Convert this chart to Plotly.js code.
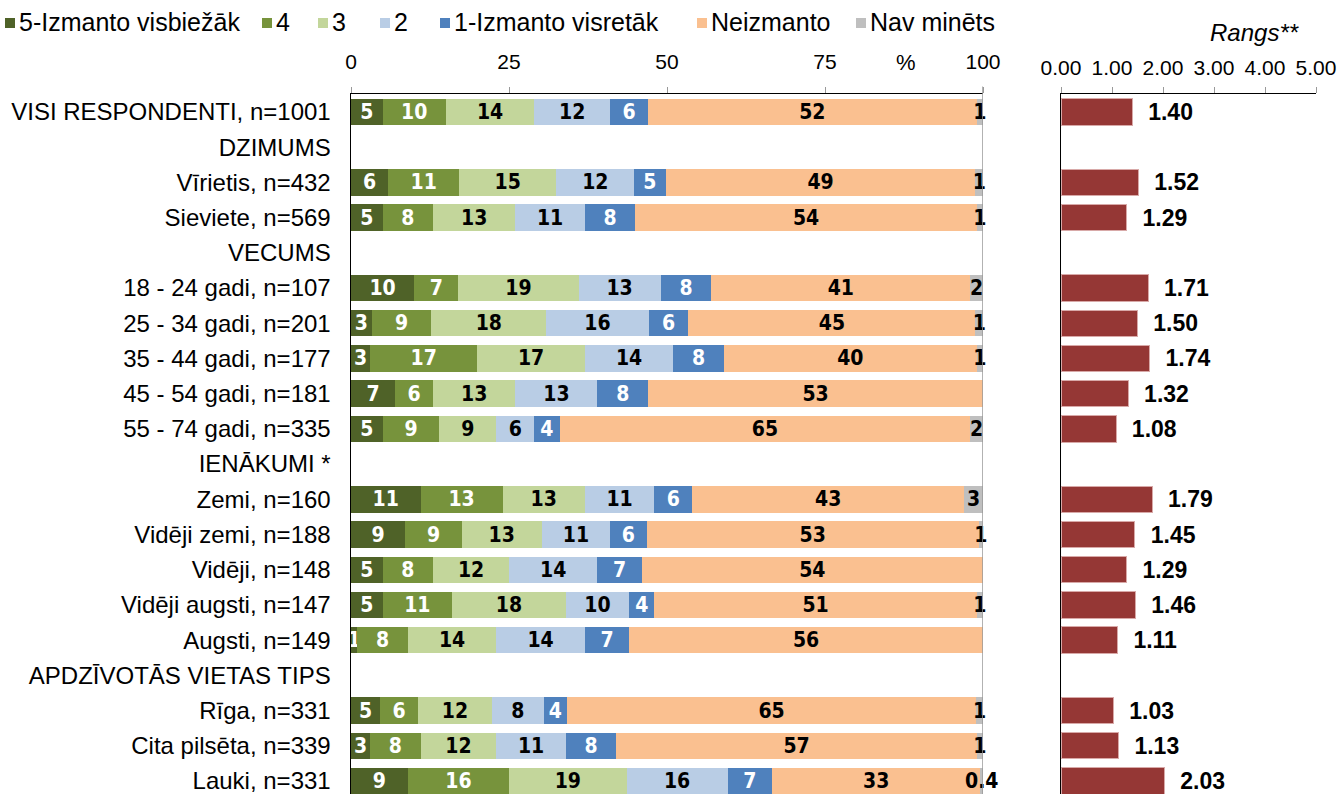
<!DOCTYPE html>
<html>
<head>
<meta charset="utf-8">
<script src="https://cdn.plot.ly/plotly-3.0.1.min.js"></script>
<style>html,body{margin:0;padding:0;background:#fff;}#chart{width:1339px;height:794px;}</style>
</head>
<body>
<div id="chart"></div>
<script>
const categories = [
  "VISI RESPONDENTI, n=1001", "DZIMUMS", "Vīrietis, n=432", "Sieviete, n=569",
  "VECUMS", "18 - 24 gadi, n=107", "25 - 34 gadi, n=201", "35 - 44 gadi, n=177",
  "45 - 54 gadi, n=181", "55 - 74 gadi, n=335", "IENĀKUMI *", "Zemi, n=160",
  "Vidēji zemi, n=188", "Vidēji, n=148", "Vidēji augsti, n=147", "Augsti, n=149",
  "APDZĪVOTĀS VIETAS TIPS", "Rīga, n=331", "Cita pilsēta, n=339", "Lauki, n=331"
];
const seriesNames = ["5-Izmanto visbiežāk", "4", "3", "2", "1-Izmanto visretāk", "Neizmanto", "Nav minēts"];
const s5   = [5, null, 5.9, 5, null, 10, 3.3, 3, 7, 5, null, 11, 8.6, 5, 5, 1, null, 4.6, 3, 9];
const s4   = [10, null, 11.2, 8, null, 7, 9.4, 17, 6, 9, null, 13, 8.9, 8, 11, 8, null, 6.0, 8, 16];
const s3   = [14, null, 15.4, 13, null, 19, 18.2, 17, 13, 9, null, 13, 12.7, 12, 18, 14, null, 11.7, 12, 18.6];
const s2   = [12, null, 12.3, 11, null, 13, 16.2, 14, 13, 6, null, 11, 10.8, 14, 10, 14, null, 8.2, 11, 16];
const s1   = [6, null, 5.0, 8, null, 8, 6.3, 8, 8, 4, null, 6, 5.8, 7, 4, 7, null, 3.7, 8, 7];
const sNe  = [52, null, 49.0, 54, null, 41, 45.4, 40, 53, 65, null, 43, 52.5, 54, 51, 56, null, 64.7, 57, 33];
const sNav = [1, null, 1.2, 1, null, 2, 1.2, 1, null, 2, null, 3, 0.7, null, 1, null, null, 1.1, 1, 0.4];
const rangs = [1.40, null, 1.52, 1.29, null, 1.71, 1.50, 1.74, 1.32, 1.08, null, 1.79, 1.45, 1.29, 1.46, 1.11, null, 1.03, 1.13, 2.03];
const xTicks = [0, 25, 50, 75, 100];
const x2Ticks = [0, 1, 2, 3, 4, 5];

const colors = ["#4F6228", "#77933C", "#C3D69B", "#B9CDE5", "#4F81BD", "#FAC090", "#BFBFBF"];
const textColors = ["#FFFFFF", "#FFFFFF", "#000000", "#000000", "#FFFFFF", "#000000", "#000000"];
const allSeries = [s5, s4, s3, s2, s1, sNe, sNav];
// legend entry left edges (pixels) - layout only
const legendX = [5, 262, 318, 380, 440, 697, 856];

function lbl(v) {
  if (v === null || v === undefined) return "";
  if (v < 0.5) return v.toFixed(1);
  return String(Math.round(v));
}

const LABEL_FONT = "'Liberation Sans Narrow', 'Arial Narrow', 'DejaVu Sans Condensed', sans-serif";
const FONT = "'Liberation Sans', Arial, sans-serif";
const W = 1339, H = 794;

const traces = allSeries.map((vals, i) => ({
  type: "bar",
  orientation: "h",
  name: seriesNames[i],
  showlegend: false,
  y: categories,
  x: vals,
  text: vals.map(lbl),
  textposition: "inside",
  insidetextanchor: "middle",
  textangle: 0,
  cliponaxis: false,
  textfont: { family: LABEL_FONT, size: 21, color: textColors[i], weight: "bold" },
  marker: { color: colors[i], line: { width: 0 } },
  xaxis: "x",
  yaxis: "y",
  hoverinfo: "skip"
}));

traces.push({
  type: "bar",
  orientation: "h",
  name: "Rangs",
  showlegend: false,
  y: categories,
  x: rangs,
  text: rangs.map(v => v === null ? "" : "\u00a0\u00a0" + v.toFixed(2)),
  textposition: "outside",
  cliponaxis: false,
  textfont: { family: FONT, size: 23, color: "#000000", weight: "bold" },
  marker: { color: "#953735", line: { width: 1, color: "#D8A9A8" } },
  xaxis: "x2",
  yaxis: "y2",
  hoverinfo: "skip"
});

const yTop = (H - 94.4) / H;
const yRange = [19.37, -0.5];

const shapes = [
  { type: "line", xref: "x", yref: "paper", x0: 100, x1: 100, y0: 0, y1: yTop + 8 / H,
    line: { color: "#999999", width: 1.5 }, layer: "above" }
];
const annotations = [
  { text: "%", xref: "paper", yref: "paper", x: 906 / W, y: (H - 62) / H,
    xanchor: "center", yanchor: "middle", showarrow: false,
    font: { family: FONT, size: 22, color: "#000000" } },
  { text: "<i>Rangs**</i>", xref: "paper", yref: "paper", x: 1254 / W, y: (H - 33) / H,
    xanchor: "center", yanchor: "middle", showarrow: false,
    font: { family: FONT, size: 24, color: "#000000" } }
];
// legend built from series names and colours
seriesNames.forEach((name, i) => {
  const x0 = legendX[i];
  shapes.push({ type: "rect", xref: "paper", yref: "paper",
    x0: x0 / W, x1: (x0 + 10) / W, y0: (H - 28) / H, y1: (H - 18) / H,
    fillcolor: colors[i], line: { width: 0 } });
  annotations.push({ text: name, xref: "paper", yref: "paper",
    x: (x0 + 12) / W, y: (H - 22) / H, xanchor: "left", yanchor: "middle",
    showarrow: false, font: { family: FONT, size: 25, color: "#000000" } });
});

const layout = {
  width: W,
  height: H,
  margin: { l: 0, r: 0, t: 0, b: 0 },
  paper_bgcolor: "#FFFFFF",
  plot_bgcolor: "rgba(0,0,0,0)",
  barmode: "stack",
  bargap: 0.25,
  font: { family: FONT, color: "#000000" },
  showlegend: false,
  uniformtext: { mode: "show", minsize: 21 },
  xaxis: {
    domain: [351 / W, 983 / W],
    range: [0, 100],
    side: "top",
    anchor: "y",
    tickvals: xTicks,
    ticktext: xTicks.map(String),
    ticks: "outside",
    ticklen: 6,
    tickcolor: "#999999",
    tickfont: { family: FONT, size: 21, color: "#000000" },
    ticklabelstandoff: 10,
    showline: true,
    linecolor: "#000000",
    linewidth: 1.5,
    showgrid: false,
    zeroline: false,
    fixedrange: true
  },
  yaxis: {
    domain: [0, yTop],
    type: "category",
    categoryorder: "array",
    categoryarray: categories,
    range: yRange,
    anchor: "x",
    ticks: "",
    ticklabelstandoff: 14,
    tickfont: { family: FONT, size: 24, color: "#000000" },
    showline: true,
    linecolor: "#000000",
    linewidth: 1.5,
    showgrid: false,
    zeroline: false,
    fixedrange: true
  },
  xaxis2: {
    domain: [1061 / W, 1316 / W],
    range: [0, 5],
    side: "top",
    anchor: "y2",
    tickvals: x2Ticks,
    ticktext: x2Ticks.map(v => v.toFixed(2)),
    ticks: "outside",
    ticklen: 6,
    tickcolor: "#999999",
    tickfont: { family: FONT, size: 21, color: "#000000" },
    ticklabelstandoff: 4,
    showline: true,
    linecolor: "#000000",
    linewidth: 1.5,
    showgrid: false,
    zeroline: false,
    fixedrange: true
  },
  yaxis2: {
    domain: [0, yTop],
    type: "category",
    categoryorder: "array",
    categoryarray: categories,
    range: yRange,
    anchor: "x2",
    showticklabels: false,
    ticks: "",
    showline: true,
    linecolor: "#000000",
    linewidth: 1.5,
    showgrid: false,
    zeroline: false,
    fixedrange: true
  },
  shapes: shapes,
  annotations: annotations
};

Plotly.newPlot("chart", traces, layout, { staticPlot: true, displayModeBar: false });
</script>
</body>
</html>
